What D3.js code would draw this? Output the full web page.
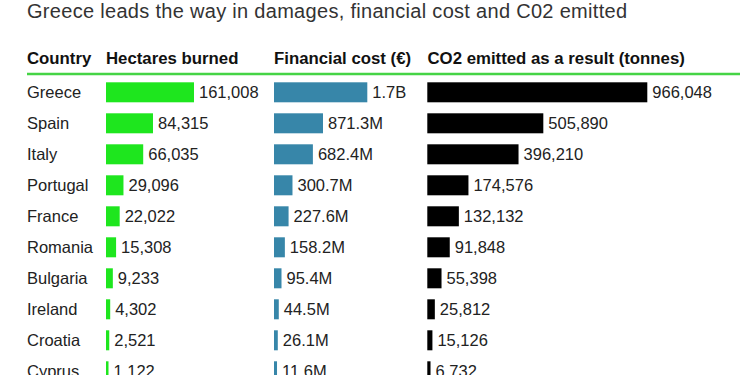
<!DOCTYPE html>
<html>
<head>
<meta charset="utf-8">
<script src="https://cdn.jsdelivr.net/npm/d3@7"></script>
<style>
  html, body { margin: 0; padding: 0; background: #fff; }
  svg { display: block; font-family: "Liberation Sans", Arial, Helvetica, sans-serif; }
</style>
</head>
<body>
<svg id="chart" width="750" height="375"></svg>
<script>
const countries = ["Greece", "Spain", "Italy", "Portugal", "France", "Romania", "Bulgaria", "Ireland", "Croatia", "Cyprus"];
const hectares = [161008, 84315, 66035, 29096, 22022, 15308, 9233, 4302, 2521, 1122];
const costMillions = [1700, 871.3, 682.4, 300.7, 227.6, 158.2, 95.4, 44.5, 26.1, 11.6];
const co2Tonnes = [966048, 505890, 396210, 174576, 132132, 91848, 55398, 25812, 15126, 6732];
const headers = ["Country", "Hectares burned", "Financial cost (€)", "CO2 emitted as a result (tonnes)"];
const title = "Greece leads the way in damages, financial cost and C02 emitted";

const svg = d3.select("#chart");

svg.append("text")
  .attr("x", 27).attr("y", 17.5)
  .attr("fill", "#333")
  .style("font-size", "20px")
  .style("letter-spacing", "0.3px")
  .text(title);

const headerX = [27, 106, 274, 427.5];
svg.selectAll("text.hdr").data(headers).join("text")
  .attr("class", "hdr")
  .attr("x", (d, i) => headerX[i]).attr("y", 63.5)
  .attr("fill", "#111")
  .style("font-size", "16.8px").style("font-weight", "bold")
  .text(d => d);

svg.append("line")
  .attr("x1", 27).attr("x2", 740).attr("y1", 74).attr("y2", 74)
  .attr("stroke", "#45d445").attr("stroke-width", 2.5);

const y = d3.scaleBand().domain(countries)
  .range([82.3, 82.3 + 31 * 9 + 20]).paddingInner(11 / 31).paddingOuter(0);

const rows = countries.map((c, i) => ({ c, h: hectares[i], f: costMillions[i], e: co2Tonnes[i] }));

svg.selectAll("text.country").data(rows).join("text")
  .attr("class", "country")
  .attr("x", 27).attr("y", d => y(d.c) + y.bandwidth() / 2 + 5.3)
  .attr("fill", "#222").style("font-size", "16.5px")
  .text(d => d.c);

const fmtComma = d3.format(",");
const fmtCost = v => v >= 1000 ? d3.format(".1f")(v / 1000) + "B" : d3.format(".1f")(v) + "M";

const cols = [
  { key: "h", x0: 106, scale: d3.scaleLinear().domain([0, d3.max(hectares)]).range([1.9, 88]), color: "#1ee61e", fmt: fmtComma },
  { key: "f", x0: 274, scale: d3.scaleLinear().domain([0, d3.max(costMillions)]).range([2.4, 93.3]), color: "#3786a9", fmt: fmtCost },
  { key: "e", x0: 427.3, scale: d3.scaleLinear().domain([0, d3.max(co2Tonnes)]).range([1.7, 220]), color: "#000", fmt: fmtComma }
];

cols.forEach(col => {
  const g = svg.append("g");
  g.selectAll("rect").data(rows).join("rect")
    .attr("x", col.x0)
    .attr("y", d => y(d.c))
    .attr("width", d => col.scale(d[col.key]))
    .attr("height", y.bandwidth())
    .attr("fill", col.color);
  g.selectAll("text").data(rows).join("text")
    .attr("x", d => col.x0 + col.scale(d[col.key]) + 5)
    .attr("y", d => y(d.c) + y.bandwidth() / 2 + 5.3)
    .attr("fill", "#222").style("font-size", "16.5px")
    .text(d => col.fmt(d[col.key]));
});
</script>
</body>
</html>
